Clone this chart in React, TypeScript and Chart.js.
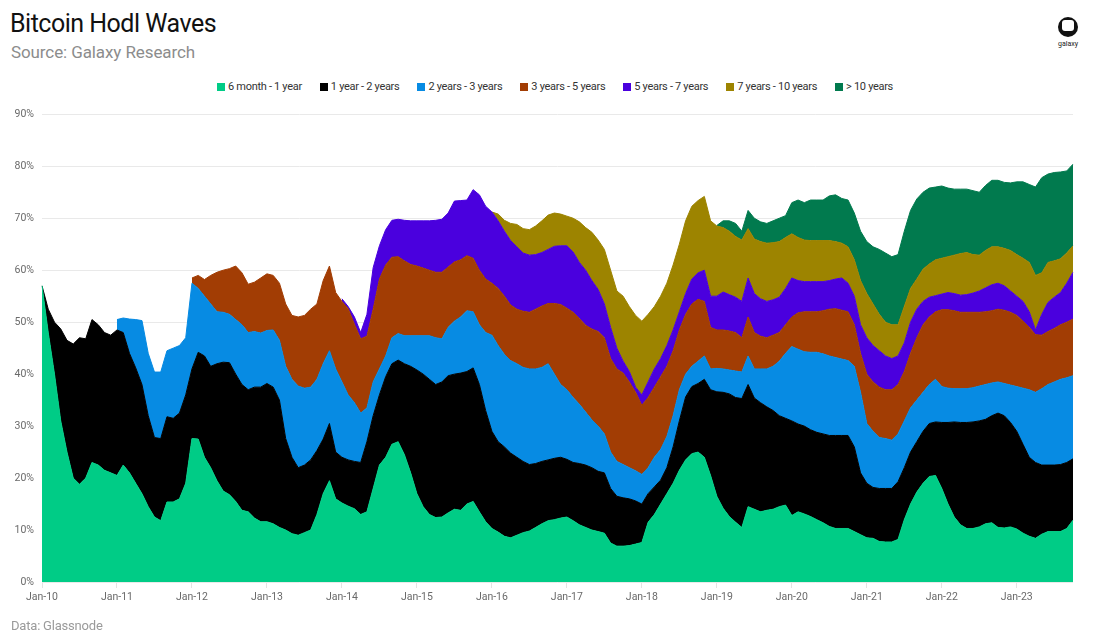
import { useEffect, useRef } from 'react';
import { Chart, registerables } from 'chart.js';

Chart.register(...registerables);

// Monthly readings, Jan 2010 onward. Each array is the upper edge of a wave:
// the share of supply (in %) held between 6 months and the band's upper age.
const START_YEAR = 2010;

const upTo1y = [
  57, 48, 40, 31, 25, 20, 18.8, 20, 23, 22.5, 21.5, 21, 20.5, 22.5, 21, 19, 17, 14.5, 12.5, 11.8, 15.4, 15.4, 16, 19, 27.6, 27.5, 24, 22, 19.5, 17.5, 16.8, 15.5, 13.8, 13.5,
  12.3, 11.6, 11.6, 11.2, 10.5, 10, 9.3, 9, 9.5, 10, 13, 17, 19.5, 16, 15.2, 14.6, 14.1, 13, 13.5, 18, 22.5, 24, 26.5, 27, 24.5, 21, 17, 14.5, 13, 12.4, 12.5, 13.3,
  14, 13.8, 15, 15.5, 13.5, 11.6, 10.3, 9.6, 8.8, 8.5, 9, 9.5, 9.8, 10.5, 11.2, 11.8, 12, 12.3, 12.5, 11.8, 11, 10.5, 10, 9.7, 9.4, 7.5, 6.9, 6.9, 7, 7.3, 7.6, 11.5, 13, 15, 17,
  19, 21.5, 23.5, 24.7, 25, 24, 20.5, 16.5, 14.2, 12.6, 11.5, 10.5, 14.5, 14, 13.5, 13.8, 14, 14.5, 14.8, 12.8, 13.5, 13.1, 12.6, 12, 11.4, 10.7, 10.3, 10.3, 10.3, 9.7, 9.1, 8.5, 8.4,
  7.8, 7.7, 7.7, 8.2, 12, 15, 17.3, 19, 20.3, 20.5, 18, 15, 12.5, 11, 10.3, 10.3, 10.6, 11.2, 11.4, 10.5, 10.4, 10.6, 10.2, 9.4, 8.8, 8.4, 9.2, 9.7, 9.7, 9.7, 10.3, 11.9,
];

const upTo2y = [
  57, 52.5, 50, 48.7, 46.5, 45.8, 47, 46.8, 50.5, 49.5, 48, 47.5, 48.5, 48, 44, 41.2, 38, 32, 27.8, 27.6, 31.8, 31.5, 32.5, 36, 41, 44.2, 43.5, 41.5, 42, 42.3, 42.2, 40, 38, 37,
  37.5, 37.5, 38.2, 37.5, 35, 27.6, 24, 22, 22.5, 23.5, 25.3, 27.5, 30.5, 25, 24, 23.5, 23.2, 23, 27, 32, 36, 39.5, 42, 42.7, 42, 41.5, 40.8, 40, 39, 38, 38.5, 39.7,
  40, 40.2, 40.5, 41.2, 38, 33, 29, 27, 26, 24.8, 24, 23.2, 22.6, 22.8, 23.2, 23.5, 23.8, 24, 23.6, 23, 22.8, 22.5, 22, 21.3, 21, 18, 16.5, 16.2, 16, 15.6, 15, 17, 18.3, 19.6, 22,
  26, 31, 35.6, 37.6, 38.2, 39, 37, 36.6, 36.5, 36.2, 35.5, 35.3, 38, 35.4, 34.5, 33.7, 33, 32, 31.5, 31, 30.4, 30, 29.3, 28.8, 28.5, 28.2, 28.2, 28.2, 28.2, 26, 21, 19, 18.2,
  18, 18, 18, 19.3, 22, 25, 27, 29, 30.5, 30.8, 30.7, 30.7, 30.8, 30.7, 30.7, 30.8, 31, 31.3, 32, 32.5, 32, 30.7, 29, 26.5, 24, 23, 22.5, 22.5, 22.5, 22.6, 23, 23.7,
];

// from Jan 2011
const upTo3y = [
  50.5, 50.8, 50.6, 50.5, 50.3, 44, 40.4, 40.4, 44.5, 45, 45.5, 47, 57.5, 56.5, 55, 53.5, 52, 51.9, 51.5, 50.5, 49.5, 48,
  48.2, 47.9, 48.4, 48.5, 46.5, 41.5, 39, 37.7, 37.3, 37.5, 39, 42, 44.5, 41, 38.5, 36, 34.5, 32.5, 33.5, 38.5, 41, 43.5, 47, 47.8, 47.4, 47.4, 47.4, 47.4, 47.4, 47, 46.8, 49,
  50.2, 51, 52.2, 52, 49.5, 48, 47.5, 45.5, 43.8, 42.6, 42, 41.3, 41, 41, 41.3, 42, 40, 38, 37, 35.5, 34.2, 32.7, 31.2, 30, 28.5, 25, 23.2, 22.6, 22, 21.4, 20.7, 22, 24, 25.5, 28,
  32, 37, 40, 41.5, 42.5, 43.5, 41, 41.1, 41, 40.8, 40.6, 40.4, 43.5, 41, 41, 41, 41.5, 42.5, 44, 45.3, 44.8, 44.3, 44.2, 44.2, 43.9, 43.5, 43.2, 42.9, 42.6, 41.5, 36.5, 30.5, 29,
  27.8, 27.6, 27.3, 28.5, 31, 33.5, 35, 36.5, 38, 39, 37.6, 37.3, 37.2, 37.2, 37.2, 37.4, 37.7, 38, 38.3, 38.5, 38.2, 37.9, 37.6, 37.3, 37, 36.5, 37.2, 38, 38.5, 39, 39.3, 39.7,
];

// from Jan 2012
const upTo5y = [
  58.5, 59, 58.2, 59, 59.6, 60, 60.3, 60.8, 59.5, 57.3,
  57.7, 58.5, 59.3, 59, 57.5, 53.5, 51.3, 51, 51.3, 52.5, 53.5, 58, 60.8, 55.7, 54, 52.6, 49.6, 46.8, 47.3, 52.5, 58.3, 61, 62.5, 62.6, 61.8, 61.1, 60.8, 60.4, 60, 59.6, 59.6, 60.6,
  61.6, 62, 62.8, 62.3, 60, 58.3, 57.5, 56.5, 55, 53.3, 52.5, 52.1, 51.9, 52.5, 53.1, 53.6, 53.6, 53.4, 52.7, 51.9, 50.7, 49.4, 48.7, 48.2, 47, 43, 41, 40.2, 38.5, 36.5, 34, 35.5, 37.5, 39.5, 41.5,
  44.5, 48.5, 51.5, 53.5, 54.4, 54, 49, 48.5, 48.5, 48.3, 48, 47, 51, 48, 47.3, 47, 47.5, 48, 49.5, 51, 51.8, 52, 52, 52, 52.2, 52.5, 52.6, 52.3, 52, 49.5, 44, 40, 38.5,
  37.5, 37, 37, 38, 40.5, 44, 47, 49.5, 51, 52, 52.4, 52.4, 52.2, 51.9, 51.9, 51.9, 51.9, 52, 52.2, 52.5, 52.3, 51.9, 51.3, 50.2, 49, 47.6, 47.5, 48.2, 48.8, 49.5, 50, 50.6,
];

// from Jan 2014
const upTo7y = [
  54.5, 53, 51, 48, 51.5, 60.5, 64.7, 67.8, 69.6, 69.8, 69.6, 69.5, 69.5, 69.5, 69.5, 69.6, 69.8, 71,
  73.3, 73.4, 73.5, 75.5, 74.5, 72.3, 71.2, 69.5, 67.5, 65.7, 64.5, 63.3, 62.9, 63, 63.4, 64, 64.6, 64.7, 64.7, 63.5, 61.5, 60, 58, 56.3, 53.5, 49, 45, 42.5, 40.5, 37.5, 36, 38.5, 41, 43, 45.5,
  48.5, 52, 55.5, 58.3, 59.5, 60, 55, 55, 55.8, 55.3, 54.8, 54, 58.5, 55.5, 54.5, 54, 54.3, 54.8, 56.5, 58.5, 58, 57.8, 57.8, 57.8, 57.8, 58, 58.3, 58.5, 57.5, 55, 49.5, 47, 45.5,
  44.5, 43.5, 43, 43.5, 46, 50, 52.5, 54, 54.8, 55.1, 55.4, 55.7, 55.5, 55.2, 55.3, 55.6, 56, 56.6, 57.2, 57.5, 57, 56, 55, 54, 52, 48.5, 51.5, 53.8, 54.8, 55.7, 57.5, 59.6,
];

// from Jan 2016
const upTo10y = [
  71.2, 70.8, 69.6, 69, 68.8, 68, 67.8, 68.5, 69.5, 70.6, 71, 70.8, 70.4, 70, 69.3, 68.2, 67.3, 65.8, 64, 60, 56, 55, 53, 51.3, 50.2, 51.5, 53, 55, 57.5,
  61, 65, 69.5, 72.3, 73.4, 74.2, 69.5, 68.5, 68.2, 67.5, 66.5, 65.8, 68, 66, 65.5, 65.2, 65.3, 65.5, 66.3, 67, 66.3, 65.8, 65.7, 65.7, 65.7, 65.7, 65.5, 65.2, 64.5, 62, 58, 55.5, 53.5,
  51.5, 50, 49.5, 49.5, 53, 56.5, 58.3, 60.2, 61.2, 62, 62.3, 62.6, 62.9, 63.2, 63.4, 63, 62.9, 63.8, 64.5, 64.5, 64.2, 63.8, 63, 62.3, 61.5, 59, 59.5, 61.5, 61.8, 62.2, 63.3, 64.7,
];

// from Jan 2019
const upToAll = [
  68.6, 69.5, 69.5, 69, 67.5, 71.5, 70, 69.3, 69, 69.5, 70, 70.5, 73, 73.5, 73, 73.5, 73.5, 73.5, 74.3, 74.5, 73.8, 73.5, 71, 67.5, 65.5, 64.5,
  64, 63.3, 62.6, 63, 67.5, 71.5, 73.7, 75, 75.8, 76, 76.2, 75.8, 75.6, 75.6, 75.6, 75.3, 75, 76.3, 77.3, 77.3, 76.9, 76.8, 77, 77, 76.5, 76, 77.8, 78.5, 78.8, 78.9, 79.1, 80.4,
];

const bandLabels = [
  '6 month - 1 year',
  '1 year - 2 years',
  '2 years - 3 years',
  '3 years - 5 years',
  '5 years - 7 years',
  '7 years - 10 years',
  '> 10 years',
];

const bandColors = ['#00CC86', '#000000', '#078BE3', '#A23D04', '#4A00DE', '#9D8400', '#017A4E'];

const bandEdges = [upTo1y, upTo2y, upTo3y, upTo5y, upTo7y, upTo10y, upToAll];

const MONTH_COUNT = upTo1y.length;

// Month categories, "YYYY-MM"
const months: string[] = [];
for (let i = 0; i < MONTH_COUNT; i++) {
  const y = START_YEAR + Math.floor(i / 12);
  const m = (i % 12) + 1;
  months.push(`${y}-${String(m).padStart(2, '0')}`);
}

// Left-pad a wave that begins after Jan 2010 so it lines up with the month axis
const alignToMonths = (values: number[]) =>
  new Array(MONTH_COUNT - values.length).fill(null).concat(values);

const FONT = 'Roboto, "Noto Sans", sans-serif';

export default function App() {
  const canvasRef = useRef<HTMLCanvasElement>(null);

  useEffect(() => {
    if (!canvasRef.current) return;
    const chart = new Chart(canvasRef.current, {
      type: 'line',
      data: {
        labels: months,
        datasets: bandEdges.map((edge, i) => ({
          label: bandLabels[i],
          data: alignToMonths(edge),
          backgroundColor: bandColors[i],
          borderColor: bandColors[i],
          borderWidth: 1,
          pointRadius: 0,
          pointHoverRadius: 0,
          tension: 0,
          spanGaps: false,
          fill: i === 0 ? 'origin' : '-1',
        })),
      },
      options: {
        responsive: false,
        animation: false,
        events: [],
        layout: { padding: { top: 13, right: 27, left: 0, bottom: 0 } },
        plugins: {
          legend: { display: false },
          tooltip: { enabled: false },
        },
        scales: {
          x: {
            type: 'category',
            offset: false,
            border: { display: false },
            grid: {
              drawOnChartArea: false,
              drawTicks: true,
              tickLength: 6,
              color: '#e3e3e3',
            },
            ticks: {
              autoSkip: false,
              maxRotation: 0,
              minRotation: 0,
              padding: 3,
              color: '#6a6a6a',
              font: { family: FONT, size: 10.5 },
              callback: (_v: any, index: number) => {
                const lab = months[index];
                return lab.endsWith('-01') ? `Jan-${lab.slice(2, 4)}` : null;
              },
            },
            afterFit: (scale: any) => {
              scale.height = 38;
            },
          },
          y: {
            min: 0,
            max: 90,
            border: { display: false },
            grid: { color: '#e9e9e9', drawTicks: false },
            ticks: {
              stepSize: 10,
              padding: 8,
              color: '#6a6a6a',
              font: { family: FONT, size: 10.5 },
              callback: (v: any) => `${v}%`,
            },
            afterFit: (scale: any) => {
              scale.width = 42;
            },
          },
        },
      },
    });
    return () => chart.destroy();
  }, []);

  return (
    <div
      style={{
        position: 'absolute',
        left: 0,
        top: 0,
        width: 1100,
        height: 644,
        background: '#ffffff',
        overflow: 'hidden',
        fontFamily: FONT,
      }}
    >
      <div
        style={{
          position: 'absolute',
          left: 10,
          top: 9,
          fontSize: 25,
          lineHeight: '30px',
          letterSpacing: '-0.5px',
          color: '#111',
          whiteSpace: 'nowrap',
        }}
      >
        Bitcoin Hodl Waves
      </div>
      <div
        style={{
          position: 'absolute',
          left: 11,
          top: 42,
          fontSize: 17,
          lineHeight: '20px',
          letterSpacing: '-0.1px',
          color: '#8c8c8c',
          whiteSpace: 'nowrap',
        }}
      >
        Source: Galaxy Research
      </div>

      {/* brand mark */}
      <div style={{ position: 'absolute', left: 1058, top: 17, width: 20, height: 20 }}>
        <div
          style={{
            position: 'absolute',
            inset: 0,
            borderRadius: '50%',
            background: '#111',
          }}
        />
        <div
          style={{
            position: 'absolute',
            left: 4,
            top: 3,
            width: 12,
            height: 11,
            borderRadius: 3,
            background: '#fff',
          }}
        />
      </div>
      <div
        style={{
          position: 'absolute',
          left: 1048,
          width: 40,
          top: 40,
          textAlign: 'center',
          fontSize: 7,
          lineHeight: '9px',
          color: '#222',
        }}
      >
        galaxy
      </div>

      {/* legend */}
      <div
        style={{
          position: 'absolute',
          left: 5,
          width: 1100,
          top: 80,
          display: 'flex',
          justifyContent: 'center',
          gap: 18,
          fontSize: 11,
          lineHeight: '14px',
          letterSpacing: '-0.3px',
          color: '#333',
        }}
      >
        {bandLabels.map((label, i) => (
          <div key={label} style={{ display: 'flex', alignItems: 'center', whiteSpace: 'nowrap' }}>
            <span
              style={{
                display: 'inline-block',
                width: 8,
                height: 8,
                background: bandColors[i],
                marginRight: 3,
              }}
            />
            {label}
          </div>
        ))}
      </div>

      <canvas
        ref={canvasRef}
        width={1100}
        height={520}
        style={{ position: 'absolute', left: 0, top: 100, width: 1100, height: 520 }}
      />

      <div
        style={{
          position: 'absolute',
          left: 11,
          top: 618,
          fontSize: 13,
          lineHeight: '16px',
          letterSpacing: '-0.2px',
          color: '#9a9a9a',
          whiteSpace: 'nowrap',
        }}
      >
        Data: Glassnode
      </div>
    </div>
  );
}
